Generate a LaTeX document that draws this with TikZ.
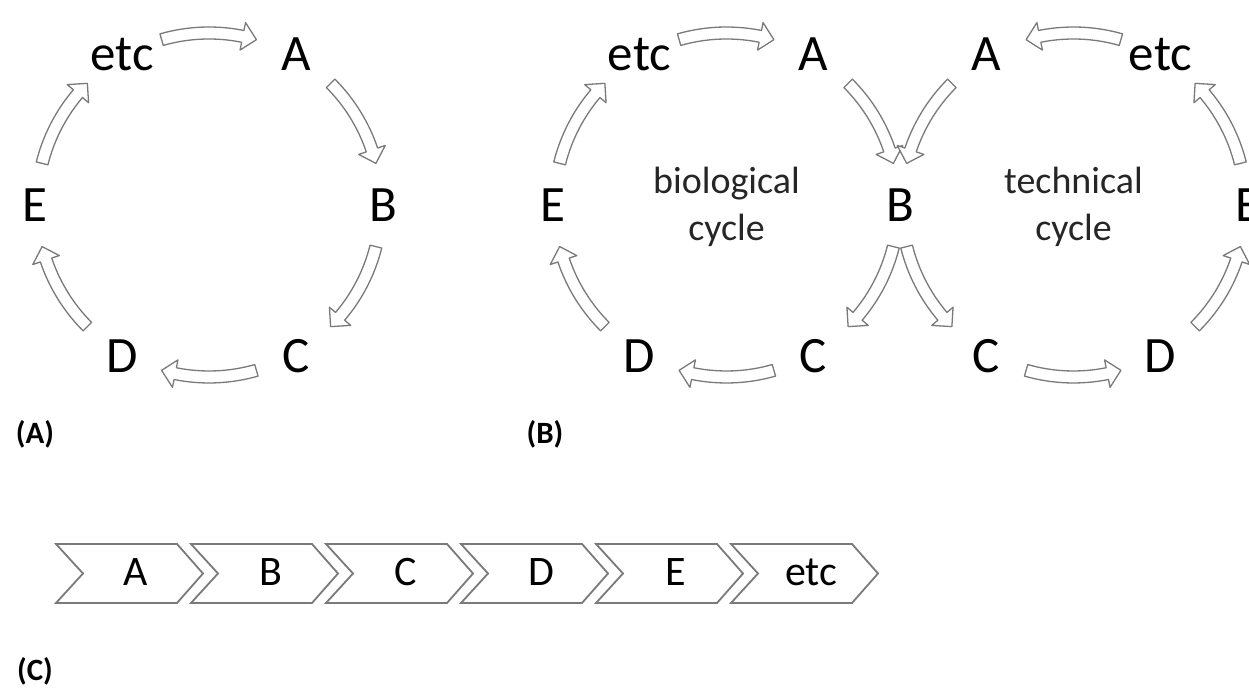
\documentclass[tikz,border=0pt]{standalone}
\usepackage{fontspec}
\setmainfont{Carlito}
\definecolor{arrowgray}{HTML}{7A7A7A}
\def\cyBw{12}
\def\cyHw{28}
\def\cyHl{14}
% curved block arrow around centre (#1,#2), radius #3, from angle #4 to angle #5
\newcommand{\cyarrow}[5]{%
  \pgfmathsetmacro{\cyAb}{#5 - ((#5)>(#4) ? 1 : -1)*\cyHl/#3*57.29578}%
  \pgfmathsetmacro{\cyRo}{#3+\cyBw/2}%
  \pgfmathsetmacro{\cyRi}{#3-\cyBw/2}%
  \pgfmathsetmacro{\cyHo}{#3+\cyHw/2}%
  \pgfmathsetmacro{\cyHi}{#3-\cyHw/2}%
  \draw[cyc] ([shift={(#1,#2)}]#4:\cyRo) arc[start angle=#4, end angle=\cyAb, radius=\cyRo]
    -- ([shift={(#1,#2)}]\cyAb:\cyHo) -- ([shift={(#1,#2)}]#5:#3) -- ([shift={(#1,#2)}]\cyAb:\cyHi)
    -- ([shift={(#1,#2)}]\cyAb:\cyRi) arc[start angle=\cyAb, end angle=#4, radius=\cyRi] -- cycle;
}
\begin{document}
\begin{tikzpicture}[x=0.5pt,y=0.5pt,
  letter/.style={font=\fontsize{25.5}{30}\selectfont, inner sep=0pt},
  cyc/.style={draw=arrowgray, fill=white, line width=0.65pt, line join=round},
  chev/.style={draw=arrowgray, fill=white, line width=0.9pt},
  chevtext/.style={font=\fontsize{21}{25}\selectfont, inner sep=0pt},
  cyclelabel/.style={font=\fontsize{19}{23.5}\selectfont, align=center, text=black!85, inner sep=0pt},
  panel/.style={font=\bfseries\fontsize{15.5}{18}\selectfont, inner sep=0pt}]
\path[use as bounding box, fill=white] (0,0) rectangle (1249,690);
\clip (0,0) rectangle (1249,690);

% ---------- panel A ----------
\node[letter] (aEtc) at ([shift={(209,485)}]120:174) {etc};
\node[letter] (aA) at ([shift={(209,485)}]60:174) {A};
\node[letter] (aB) at ([shift={(209,485)}]0:174) {B};
\node[letter] (aC) at ([shift={(209,485)}]-60:174) {C};
\node[letter] (aD) at ([shift={(209,485)}]-120:174) {D};
\node[letter] (aE) at ([shift={(209,485)}]180:174) {E};
\cyarrow{209}{485}{172}{106}{74}
\cyarrow{209}{485}{172}{45}{14}
\cyarrow{209}{485}{172}{-14}{-45}
\cyarrow{209}{485}{172}{-74}{-106}
\cyarrow{209}{485}{172}{-135}{-166}
\cyarrow{209}{485}{172}{166}{135}
\node[panel] (labA) at (35,256) {(A)};

% ---------- panel B: biological cycle ----------
\node[letter] (bEtc) at ([shift={(726.5,485)}]120:174) {etc};
\node[letter] (bA) at ([shift={(726.5,485)}]60:174) {A};
\node[letter] (bB) at ([shift={(726.5,485)}]0:174) {B};
\node[letter] (bC) at ([shift={(726.5,485)}]-60:174) {C};
\node[letter] (bD) at ([shift={(726.5,485)}]-120:174) {D};
\node[letter] (bE) at ([shift={(726.5,485)}]180:174) {E};
\node[cyclelabel] (bio) at (726.5,483) {biological\\cycle};
\cyarrow{726.5}{485}{172}{106}{74}
\cyarrow{726.5}{485}{172}{45}{14}
\cyarrow{726.5}{485}{172}{-14}{-45}
\cyarrow{726.5}{485}{172}{-74}{-106}
\cyarrow{726.5}{485}{172}{-135}{-166}
\cyarrow{726.5}{485}{172}{166}{135}

% ---------- panel B: technical cycle ----------
\node[letter] (tEtc) at ([shift={(1073.5,485)}]60:174) {etc};
\node[letter] (tA) at ([shift={(1073.5,485)}]120:174) {A};
\node[letter] (tC) at ([shift={(1073.5,485)}]-120:174) {C};
\node[letter] (tD) at ([shift={(1073.5,485)}]-60:174) {D};
\node[letter] (tE) at ([shift={(1073.5,485)}]0:174) {E};
\node[cyclelabel] (tech) at (1073.5,483) {technical\\cycle};
\cyarrow{1073.5}{485}{172}{74}{106}
\cyarrow{1073.5}{485}{172}{135}{166}
\cyarrow{1073.5}{485}{172}{-166}{-135}
\cyarrow{1073.5}{485}{172}{-106}{-74}
\cyarrow{1073.5}{485}{172}{-45}{-14}
\cyarrow{1073.5}{485}{172}{14}{45}
\node[panel] (labB) at (545,256) {(B)};

% ---------- panel C: linear chain ----------
\foreach \L/\t/\n in {56/A/cA, 191/B/cB, 326/C/cC, 461/D/cD, 596/E/cE, 731/etc/cEtc} {
  \draw[chev] (\L,146) -- ++(121,0) -- ++(26,-29.5) -- ++(-26,-29.5) -- ++(-121,0) -- ++(27,29.5) -- cycle;
  \node[chevtext] (\n) at (\L+80,118) {\t};
}
\node[panel] (labC) at (35,19) {(C)};
\end{tikzpicture}
\end{document}
